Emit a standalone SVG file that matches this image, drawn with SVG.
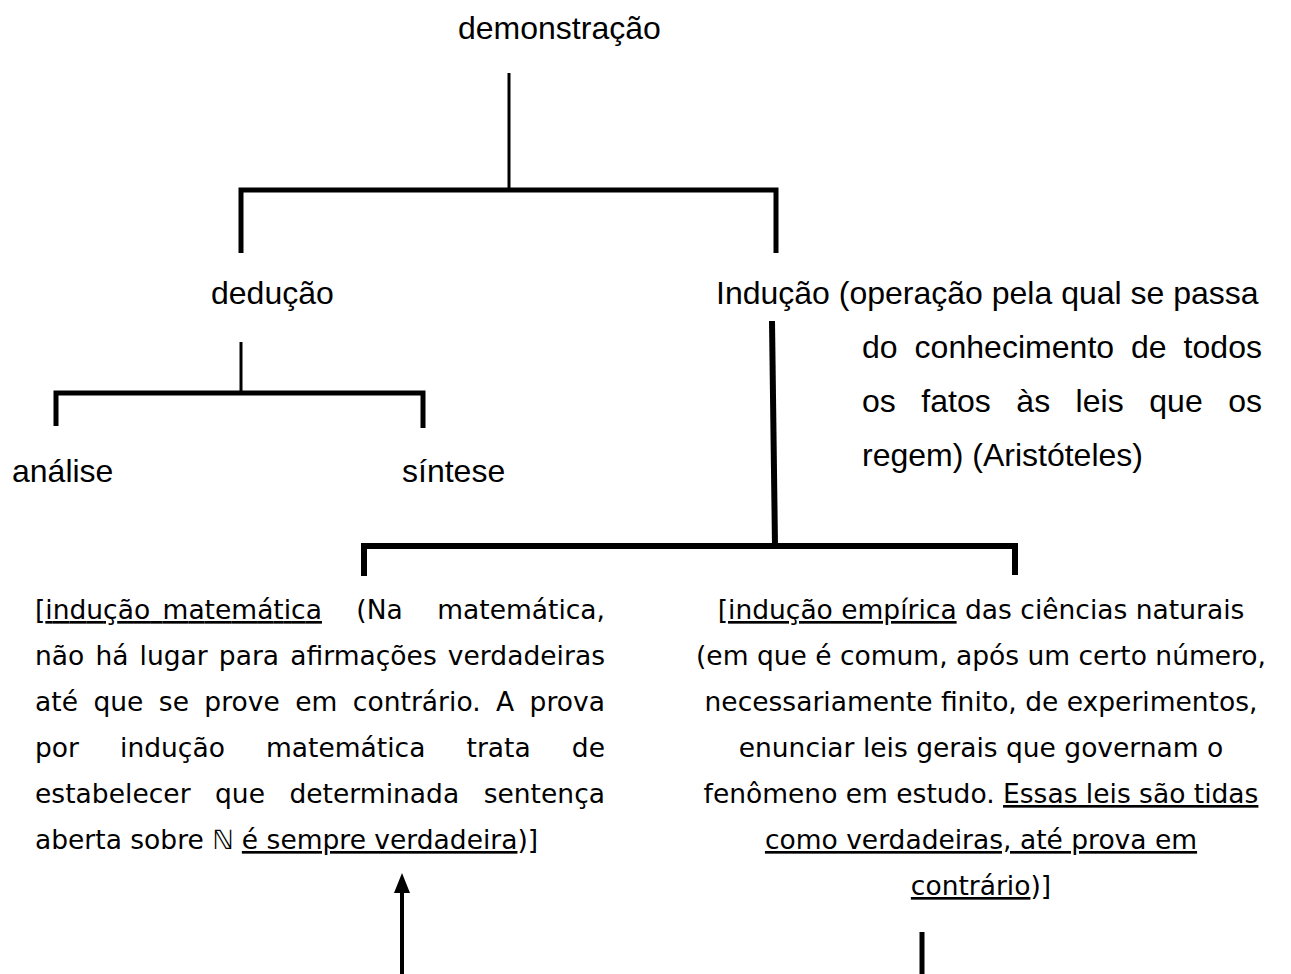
<svg xmlns="http://www.w3.org/2000/svg" width="1291" height="974" viewBox="0 0 1291 974">
<style>
.ar{font-family:"Liberation Sans",Arial,sans-serif;font-size:32px;fill:#000}
.vd{font-family:"DejaVu Sans",Verdana,sans-serif;font-size:26.5px;fill:#000}
.u{text-decoration:underline}
.c{stroke:#000;fill:none;stroke-linecap:butt}
</style>
<defs>
<marker id="ah" markerUnits="userSpaceOnUse" markerWidth="20" markerHeight="16" refX="0" refY="8" orient="auto" viewBox="0 0 20 16">
<path d="M0 0 L20 8 L0 16 Z" fill="#000"/>
</marker>
</defs>
<rect width="1291" height="974" fill="#fff"/>
<g id="connectors">
<line class="c" x1="509" y1="73" x2="509" y2="192" stroke-width="3"/>
<polyline class="c" points="241,253 241,190 776,190 776,253" stroke-width="5"/>
<line class="c" x1="241" y1="342" x2="241" y2="393" stroke-width="3"/>
<polyline class="c" points="56,426 56,393 423,393 423,428" stroke-width="5"/>
<line class="c" x1="772" y1="321" x2="775" y2="546" stroke-width="6"/>
<polyline class="c" points="364,576 364,546 1015,546 1015,575" stroke-width="6"/>
<line class="c" x1="402" y1="974" x2="402" y2="893" stroke-width="4" marker-end="url(#ah)"/>
<line class="c" x1="922" y1="932" x2="922" y2="974" stroke-width="5"/>
</g>
<g id="demonstracao"><text class="ar" x="458" y="39">demonstração</text></g>
<g id="deducao"><text class="ar" x="211" y="304">dedução</text></g>
<g id="inducao">
<text class="ar" x="716" y="304">Indução (operação pela qual se passa</text>
<text class="ar" x="862" y="358" word-spacing="8" textLength="400" lengthAdjust="spacing">do conhecimento de todos</text>
<text class="ar" x="862" y="412" word-spacing="16.5" textLength="400" lengthAdjust="spacing">os fatos às leis que os</text>
<text class="ar" x="862" y="466">regem) (Aristóteles)</text>
</g>
<g id="analise"><text class="ar" x="12" y="482">análise</text></g>
<g id="sintese"><text class="ar" x="402" y="482">síntese</text></g>
<g id="inducao-matematica">
<text class="vd" x="35" y="619" word-spacing="26" textLength="570" lengthAdjust="spacing">[<tspan class="u" word-spacing="4">indução matemática</tspan> (Na matemática,</text>
<text class="vd" x="35" y="665" word-spacing="2.6" textLength="570" lengthAdjust="spacing">não há lugar para afirmações verdadeiras</text>
<text class="vd" x="35" y="711" word-spacing="6.9" textLength="570" lengthAdjust="spacing">até que se prove em contrário. A prova</text>
<text class="vd" x="35" y="757" word-spacing="32.7" textLength="570" lengthAdjust="spacing">por indução matemática trata de</text>
<text class="vd" x="35" y="803" word-spacing="16" textLength="570" lengthAdjust="spacing">estabelecer que determinada sentença</text>
<text class="vd" x="35" y="849">aberta sobre ℕ <tspan class="u">é sempre verdadeira</tspan>)]</text>
</g>
<g id="inducao-empirica" text-anchor="middle">
<text class="vd" x="981" y="619">[<tspan class="u">indução empírica</tspan> das ciências naturais</text>
<text class="vd" x="981" y="665">(em que é comum, após um certo número,</text>
<text class="vd" x="981" y="711">necessariamente finito, de experimentos,</text>
<text class="vd" x="981" y="757">enunciar leis gerais que governam o</text>
<text class="vd" x="981" y="803">fenômeno em estudo. <tspan class="u">Essas leis são tidas</tspan></text>
<text class="vd" x="981" y="849"><tspan class="u">como verdadeiras, até prova em</tspan></text>
<text class="vd" x="981" y="895"><tspan class="u">contrário</tspan>)]</text>
</g>
</svg>
